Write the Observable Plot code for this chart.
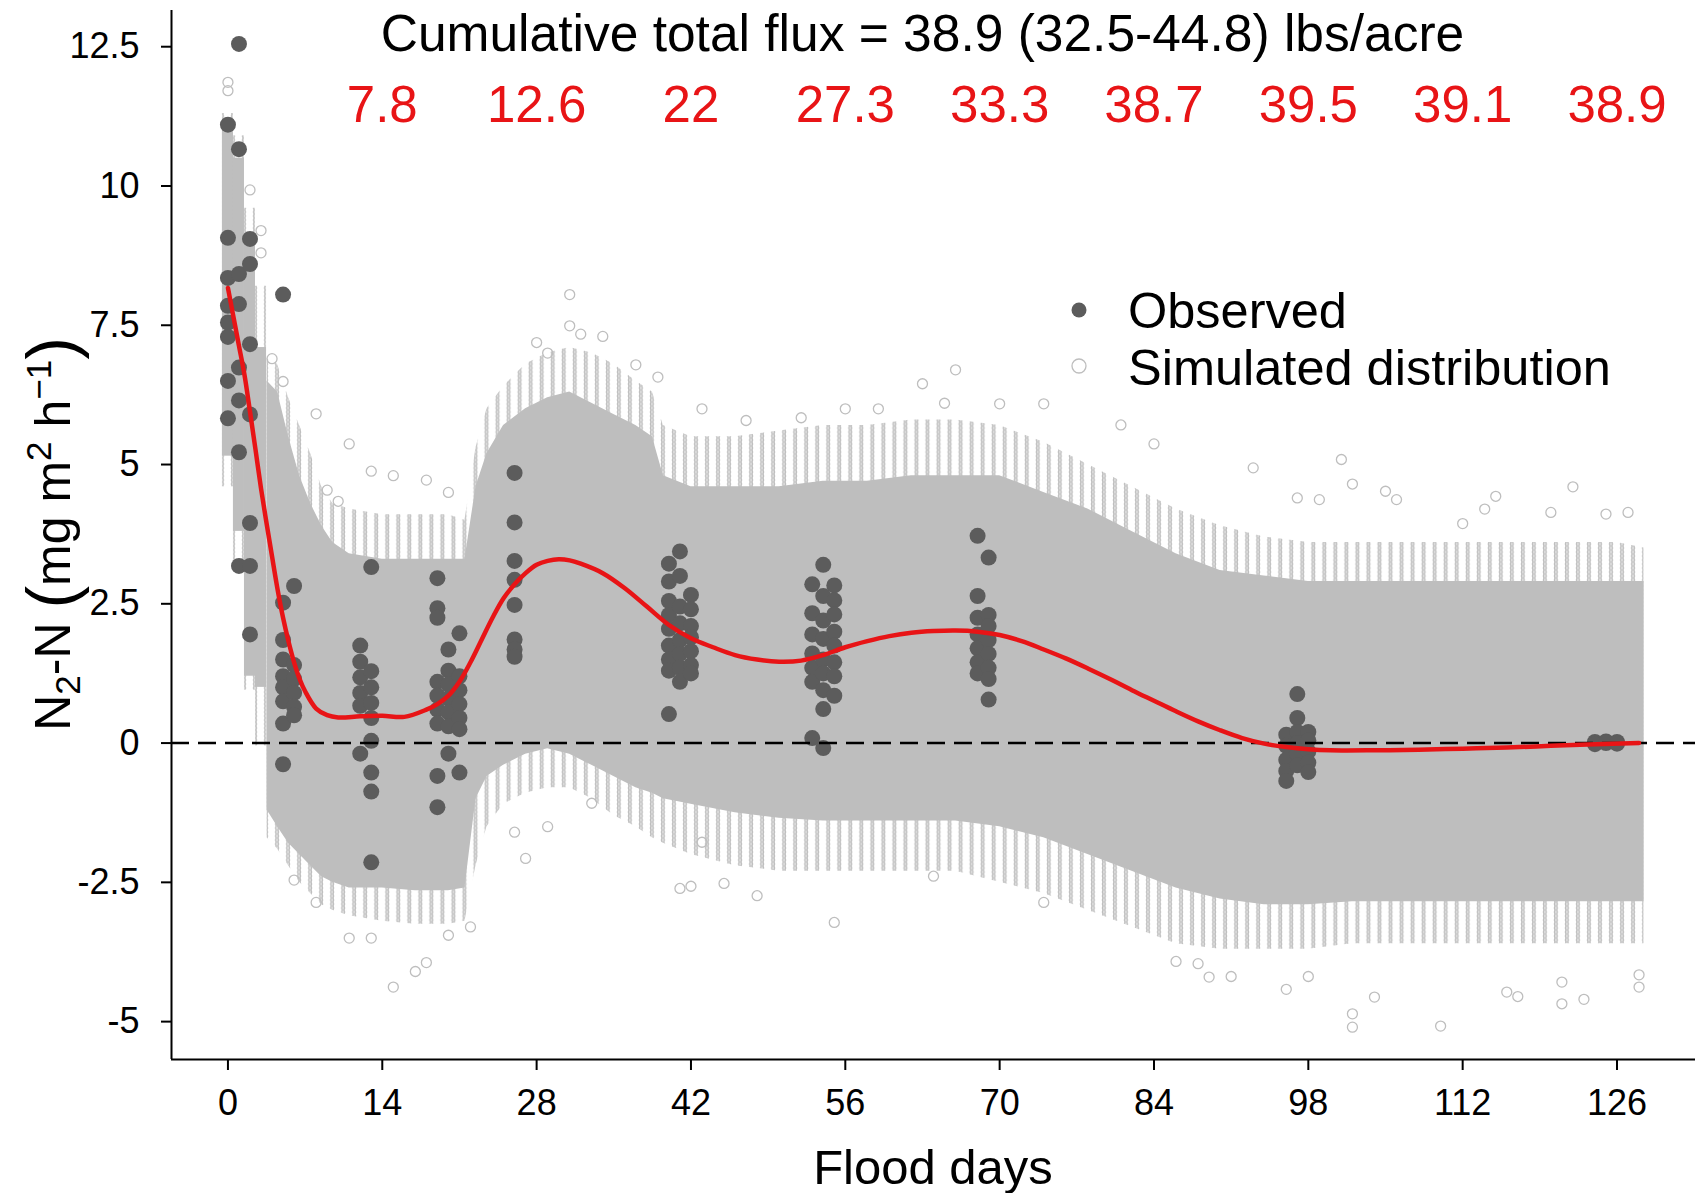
<!DOCTYPE html>
<html><head><meta charset="utf-8">
<script src="https://cdn.jsdelivr.net/npm/d3@7"></script>
<script src="https://cdn.jsdelivr.net/npm/@observablehq/plot@0.6"></script>
<style>
html,body{margin:0;padding:0;background:#fff;}
#chart{width:1704px;height:1193px;}
</style></head><body><div id="chart"></div>
<script>
// ---------- data ----------
const xTicks = [0, 14, 28, 42, 56, 70, 84, 98, 112, 126];
const yTicks = [-5, -2.5, 0, 2.5, 5, 7.5, 10, 12.5];

// observed N2-N flux per sampling day
const obsDays = [0, 1, 2, 5, 6, 12, 13, 19, 20, 21, 26, 40, 41, 42, 53, 54, 55, 68, 69, 96, 97, 98, 124, 125, 126];
const obsValues = [
  [11.1, 9.07, 8.35, 7.85, 7.55, 7.29, 6.5, 5.83],
  [12.55, 10.66, 8.42, 7.88, 6.74, 6.15, 5.22, 3.18],
  [9.05, 8.6, 7.16, 5.9, 3.95, 3.18, 1.95],
  [8.05, 2.52, 1.85, 1.5, 1.2, 1.0, 0.75, 0.35, -0.38],
  [2.82, 1.4, 1.15, 0.9, 0.65, 0.5],
  [1.75, 1.46, 1.18, 0.9, 0.67, -0.19],
  [3.16, 1.29, 1.0, 0.72, 0.45, 0.04, -0.53, -0.87, -2.14],
  [2.96, 2.42, 2.25, 1.1, 0.85, 0.6, 0.35, -0.59, -1.15],
  [1.68, 1.3, 1.05, 0.8, 0.55, 0.3, -0.19],
  [1.97, 1.2, 0.95, 0.7, 0.45, 0.25, -0.53],
  [4.85, 3.96, 3.27, 2.93, 2.48, 1.86, 1.68, 1.55],
  [3.22, 2.9, 2.55, 2.3, 2.05, 1.75, 1.5, 1.3, 0.52],
  [3.44, 3.0, 2.45, 2.15, 1.85, 1.6, 1.35, 1.1],
  [2.66, 2.4, 2.1, 1.9, 1.65, 1.4, 1.25],
  [2.85, 2.33, 1.95, 1.61, 1.35, 1.1, 0.09],
  [3.2, 2.64, 2.2, 1.87, 1.5, 1.25, 0.95, 0.61, -0.09],
  [2.83, 2.56, 2.31, 2.0, 1.75, 1.45, 1.2, 0.85],
  [3.72, 2.64, 2.25, 1.95, 1.7, 1.45, 1.25],
  [3.33, 2.3, 2.1, 1.85, 1.6, 1.35, 1.15, 0.78],
  [0.15, -0.05, -0.3, -0.5, -0.68],
  [0.88, 0.45, 0.2, 0.0, -0.2, -0.4],
  [0.2, 0.05, -0.15, -0.35, -0.52],
  [0.02, -0.02],
  [0.03, 0.0],
  [0.02, -0.01]
];

// smoothed mean of the simulations (red line)
const fitDay = [0,0.5,1,1.5,2,2.5,3,3.5,4,4.5,5,5.5,6,6.5,7,8,9,10,12,14,16,18,19,20,21,22,23,24,25,26,27,28,29,30,31,32,34,36,38,40,42,44,46,48,50,52,54,56,58,60,62,64,66,68,70,72,74,76,78,80,82,84,86,88,90,92,94,96,98,100,104,108,112,116,120,124,128];
const fitValue = [8.17,7.65,7.13,6.61,5.95,5.27,4.57,3.95,3.35,2.76,2.25,1.82,1.45,1.15,0.93,0.62,0.5,0.46,0.48,0.49,0.47,0.6,0.7,0.85,1.1,1.45,1.85,2.25,2.6,2.85,3.05,3.2,3.27,3.3,3.28,3.22,3.05,2.78,2.45,2.12,1.88,1.72,1.58,1.5,1.46,1.48,1.58,1.72,1.83,1.92,1.98,2.01,2.02,2.0,1.94,1.83,1.68,1.52,1.34,1.15,0.95,0.76,0.57,0.39,0.23,0.09,-0.01,-0.07,-0.11,-0.13,-0.13,-0.12,-0.1,-0.08,-0.05,-0.02,0.0];

// simulated distribution: first daily columns (days 0-3)
const colDay = [0, 1, 2, 3];
const colCoreTop = [11.05, 10.5, 9.0, 7.1];
const colCoreBot = [5.15, 3.8, 1.2, 1.0];
const colFringeTop = [11.3, 10.9, 9.6, 8.2];
const colFringeBot = [4.6, 3.2, 0.95, -0.05];

// simulated distribution envelope, day 4 onwards
const bandDay = [3.55,4.5,5.5,6.5,7.5,8.5,9.5,11,14,17,20,21.5,22.5,23.5,25,27,29,31,33,35,37,38.5,39.5,42,46,50,54,58,62,66,70,74,78,82,86,90,94,98,102,106,110,114,118,122,126,128.45];
const coreTop = [6.5,6.3,5.5,4.8,4.3,3.9,3.6,3.4,3.3,3.3,3.3,3.3,4.6,5.2,5.7,6.0,6.2,6.3,6.1,5.9,5.7,5.5,4.8,4.6,4.6,4.6,4.7,4.7,4.8,4.8,4.8,4.5,4.2,3.8,3.4,3.1,3.0,2.9,2.9,2.9,2.9,2.9,2.9,2.9,2.9,2.9];
const fringeTop = [6.9,6.8,6.2,5.7,5.2,4.6,4.3,4.2,4.1,4.1,4.1,4.0,5.3,6.0,6.4,6.8,7.0,7.1,7.0,6.8,6.5,6.3,5.7,5.5,5.5,5.6,5.7,5.7,5.8,5.8,5.7,5.4,5.0,4.6,4.2,3.9,3.7,3.6,3.6,3.6,3.6,3.6,3.6,3.6,3.6,3.5];
const coreBot = [-1.2,-1.5,-1.8,-2.0,-2.2,-2.4,-2.5,-2.6,-2.6,-2.65,-2.65,-2.6,-1.0,-0.6,-0.4,-0.2,-0.1,-0.2,-0.4,-0.6,-0.8,-0.9,-1.0,-1.1,-1.25,-1.35,-1.4,-1.4,-1.4,-1.4,-1.5,-1.7,-2.0,-2.3,-2.6,-2.8,-2.9,-2.9,-2.85,-2.85,-2.85,-2.85,-2.85,-2.85,-2.85,-2.85];
const fringeBot = [-1.7,-1.9,-2.2,-2.5,-2.7,-2.9,-3.0,-3.1,-3.2,-3.25,-3.25,-3.2,-2.2,-1.5,-1.1,-0.9,-0.8,-0.8,-1.0,-1.3,-1.5,-1.7,-1.8,-2.0,-2.2,-2.3,-2.3,-2.3,-2.3,-2.3,-2.5,-2.7,-3.0,-3.3,-3.6,-3.7,-3.7,-3.7,-3.6,-3.6,-3.6,-3.6,-3.6,-3.6,-3.6,-3.6];

// isolated simulated values outside the dense band
const simOutDay = [0,0,2,3,3,4,5,8,9,10,11,13,15,18,20,6,8,11,13,15,17,18,20,22,27,26,29,28,29,31,31,32,34,37,39,43,47,52,56,59,63,65,66,70,74,81,84,93,97,99,101,102,105,106,112,114,115,120,122,125,127,33,41,42,43,45,48,55,64,74,86,88,89,91,96,98,102,102,104,110,116,117,121,121,123,128,128];
const simOutValue = [11.86,11.71,9.93,9.2,8.8,6.9,6.49,5.91,4.54,4.34,5.37,4.88,4.8,4.72,4.5,-2.46,-2.86,-3.5,-3.5,-4.38,-4.1,-3.94,-3.45,-3.3,-2.07,-1.6,-1.5,7.19,7.0,8.05,7.49,7.34,7.3,6.79,6.57,6.0,5.79,5.84,6.0,6.0,6.45,6.1,6.7,6.09,6.09,5.71,5.37,4.94,4.4,4.37,5.09,4.65,4.52,4.37,3.94,4.2,4.43,4.14,4.6,4.11,4.14,-1.08,-2.61,-2.57,-1.78,-2.52,-2.74,-3.22,-2.39,-2.86,-3.92,-3.96,-4.2,-4.19,-4.42,-4.19,-4.86,-5.1,-4.56,-5.08,-4.47,-4.55,-4.29,-4.68,-4.6,-4.16,-4.38];

// cumulative flux labels (lbs/acre) at every 14 days
const fluxDay = [14, 28, 42, 56, 70, 84, 98, 112, 126];
const fluxLabel = ["7.8", "12.6", "22", "27.3", "33.3", "38.7", "39.5", "39.1", "38.9"];
const titleText = "Cumulative total flux = 38.9 (32.5-44.8) lbs/acre";
const legendLabels = ["Observed", "Simulated distribution"];

// ---------- tables ----------
const observed = obsDays.flatMap((d, i) => obsValues[i].map(v => ({day: d, value: v})));
const fit = fitDay.map((d, i) => ({day: d, value: fitValue[i]}));
const cols = colDay.map((d, i) => ({day: d, ct: colCoreTop[i], cb: colCoreBot[i], ft: colFringeTop[i], fb: colFringeBot[i]}));
const band = bandDay.map((d, i) => ({day: d, ct: coreTop[i], cb: coreBot[i], ft: fringeTop[i], fb: fringeBot[i]}));
const outliers = simOutDay.map((d, i) => ({day: d, value: simOutValue[i]}));
const flux = fluxDay.map((d, i) => ({day: d, label: fluxLabel[i]}));

const RED = "#e81416";
const SIM = "#bebebe";
const OBS = "#5c5c5c";
const xDom = [-5.12, 133.12];
const yDom = [-5.68, 13.15];

const fig = Plot.plot({
  width: 1704, height: 1193,
  marginLeft: 171, marginRight: 9, marginTop: 10, marginBottom: 134,
  x: {domain: xDom},
  y: {domain: yDom},
  style: {fontFamily: "'Liberation Sans', Arial, sans-serif", fontSize: "36px", background: "#fff", color: "#000"},
  marks: [
    Plot.areaY(band, {x: "day", y1: "fb", y2: "ft", fill: "url(#ringPat)"}),
    Plot.areaY(band, {x: "day", y1: "cb", y2: "ct", fill: SIM}),
    Plot.rect(cols, {x1: d => d.day - 0.5, x2: d => d.day + 0.5, y1: "fb", y2: "ft", fill: "url(#ringPat)"}),
    Plot.rect(cols, {x1: d => d.day - 0.5, x2: d => d.day + 0.5, y1: "cb", y2: "ct", fill: SIM}),
    Plot.dot(outliers, {x: "day", y: "value", r: 5, stroke: SIM, strokeWidth: 1.3, fill: "none"}),
    Plot.dot(observed, {x: "day", y: "value", r: 8, fill: OBS}),
    Plot.ruleY([0], {stroke: "#000", strokeWidth: 2.5, strokeDasharray: "18,9"}),
    Plot.line(fit, {x: "day", y: "value", stroke: RED, strokeWidth: 4.5, curve: "catmull-rom"}),
    Plot.ruleX([xDom[0]], {stroke: "#000", strokeWidth: 2}),
    Plot.ruleY([yDom[0]], {stroke: "#000", strokeWidth: 2}),
    Plot.axisX(xTicks, {tickSize: 11, tickPadding: 19, strokeWidth: 2, label: null, fontSize: 36}),
    Plot.axisY(yTicks, {tickSize: 10, tickPadding: 22, strokeWidth: 2, label: null, fontSize: 36, tickFormat: d => String(d)}),
    Plot.text(flux, {x: "day", y: () => 11.45, text: "label", fill: RED, fontSize: 51, lineAnchor: "middle"}),
    Plot.text([titleText], {x: () => 63, y: () => 12.72, text: d => d, fill: "#000", fontSize: 51.5, lineAnchor: "middle"})
  ]
});
document.getElementById("chart").append(fig);

// ---------- decorations: pattern, axis titles, legend ----------
const svg = d3.select(fig);
const xs = fig.scale("x");
const dayPx = xs.apply(1) - xs.apply(0);
const defs = svg.insert("defs", ":first-child");
const pat = defs.append("pattern")
  .attr("id", "ringPat").attr("patternUnits", "userSpaceOnUse")
  .attr("x", xs.apply(0) - dayPx / 2).attr("y", 0)
  .attr("width", dayPx).attr("height", 4);
pat.append("circle").attr("cx", dayPx / 2).attr("cy", 2).attr("r", 4.6)
  .attr("fill", "none").attr("stroke", SIM).attr("stroke-width", 1.5);

const font = "'Liberation Sans', Arial, sans-serif";
// x title
svg.append("text").attr("x", 933).attr("y", 1184).attr("text-anchor", "middle")
  .attr("font-family", font).attr("font-size", 49).attr("fill", "#000").text("Flood days");
// y title with sub/superscripts
const yt = svg.append("text").attr("transform", "translate(70,534) rotate(-90)")
  .attr("text-anchor", "middle").attr("font-family", font).attr("font-size", 50).attr("fill", "#000");
yt.append("tspan").text("N");
yt.append("tspan").attr("font-size", 35).attr("dy", 10).text("2");
yt.append("tspan").attr("dy", -10).text("-N ");
yt.append("tspan").attr("font-size", 68).attr("dy", 5).text("(");
yt.append("tspan").attr("dy", -5).text("mg m");
yt.append("tspan").attr("font-size", 35).attr("dy", -19).text("2");
yt.append("tspan").attr("dy", 19).text(" h");
yt.append("tspan").attr("font-size", 35).attr("dy", -19).text("\u22121");
yt.append("tspan").attr("font-size", 68).attr("dy", 24).text(")");

// legend
const lg = svg.append("g").attr("text-anchor", "start");
lg.append("circle").attr("cx", 1079).attr("cy", 310).attr("r", 7.5).attr("fill", OBS);
lg.append("circle").attr("cx", 1079).attr("cy", 366).attr("r", 7).attr("fill", "none").attr("stroke", SIM).attr("stroke-width", 1.3);
legendLabels.forEach((t, i) => {
  lg.append("text").attr("x", 1128).attr("y", 328 + i * 56.5).attr("text-anchor", "start")
    .attr("font-family", font).attr("font-size", 50.5).attr("fill", "#000").text(t);
});
</script>
</body></html>
